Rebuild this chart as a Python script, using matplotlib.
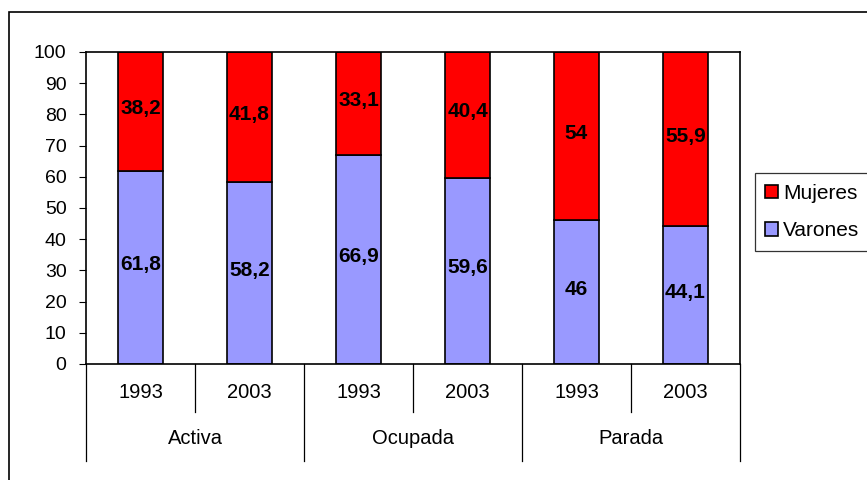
import matplotlib.pyplot as plt
from matplotlib.patches import Rectangle

plt.rcParams['font.family'] = ['Liberation Sans', 'DejaVu Sans']

groups = ['Activa', 'Ocupada', 'Parada']
years = ['1993', '2003', '1993', '2003', '1993', '2003']
varones = [61.8, 58.2, 66.9, 59.6, 46, 44.1]
mujeres = [38.2, 41.8, 33.1, 40.4, 54, 55.9]

W, H = 867, 480
fig = plt.figure(figsize=(W / 100, H / 100), dpi=100)
ax = fig.add_axes([86 / W, 1 - 364 / H, (740 - 86) / W, (364 - 52) / H])

# outer frame
fig.patches.append(Rectangle((9 / W, -0.1), 1.2, 1 - 12 / H + 0.1, transform=fig.transFigure,
                             fill=False, edgecolor='black', linewidth=1.2))

x = list(range(len(years)))
b1 = ax.bar(x, varones, width=0.42, color='#9999FF', edgecolor='black', linewidth=1.2, label='Varones')
b2 = ax.bar(x, mujeres, width=0.42, bottom=varones, color='#FF0000', edgecolor='black', linewidth=1.2, label='Mujeres')

def fmt(v):
    return ('%g' % v).replace('.', ',')

for i in x:
    ax.text(i, varones[i] / 2 + 1, fmt(varones[i]), ha='center', va='center', fontsize=15, fontweight='bold')
    ax.text(i, varones[i] + mujeres[i] / 2 + 1, fmt(mujeres[i]), ha='center', va='center', fontsize=15, fontweight='bold')

ax.set_xlim(-0.5, len(years) - 0.5)
ax.set_ylim(0, 100)
ax.set_yticks(range(0, 101, 10))
ax.tick_params(axis='y', direction='out', length=5, labelsize=14, pad=9)
ax.set_xticks([])
for s in ax.spines.values():
    s.set_linewidth(1.2)

# two-level category axis
for i, y in enumerate(years):
    ax.text(i, -9, y, ha='center', va='center', fontsize=14.5, clip_on=False)
for g, name in enumerate(groups):
    ax.text(2 * g + 0.5, -24, name, ha='center', va='center', fontsize=14.5, clip_on=False)
for k in range(len(years) + 1):
    pos = k - 0.5
    depth = -31 if k % 2 == 0 else -15.5
    ax.plot([pos, pos], [0, depth], color='black', linewidth=0.9, clip_on=False)

leg = ax.legend(handles=[b2, b1], loc='center left', bbox_to_anchor=(755 / W, 1 - 212 / H),
                bbox_transform=fig.transFigure, frameon=True, fancybox=False, fontsize=15,
                handlelength=0.6, handleheight=0.6, handletextpad=0.25, borderpad=0.5,
                labelspacing=0.9, borderaxespad=0)
leg.get_frame().set_edgecolor('black')
leg.get_frame().set_linewidth(0.9)

fig.savefig('out.png', dpi=100)
